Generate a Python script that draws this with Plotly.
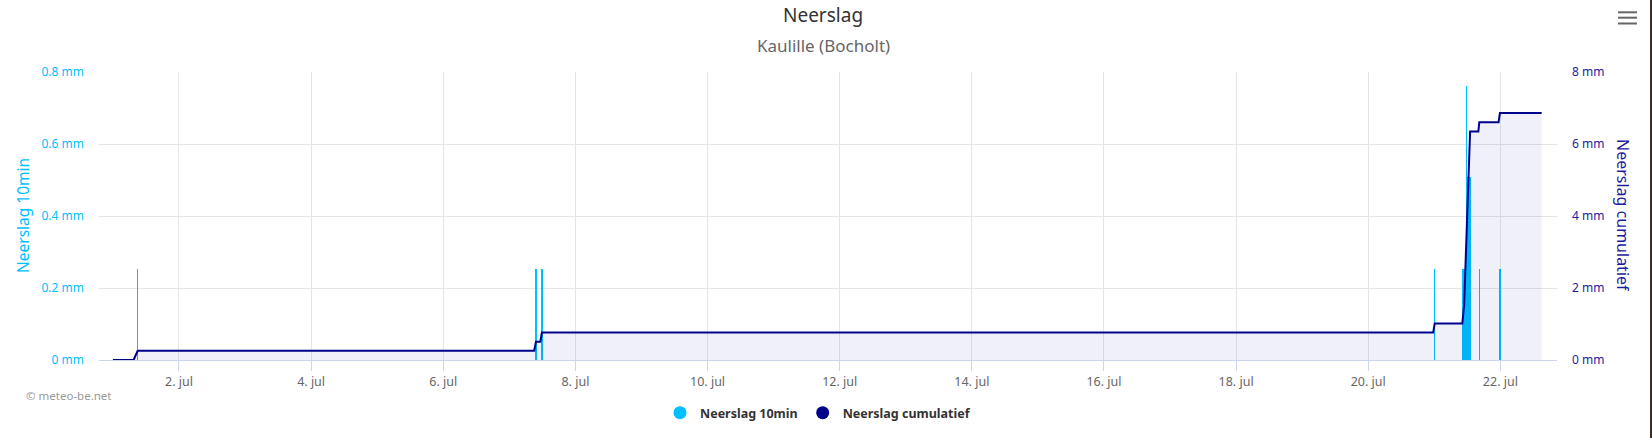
import plotly.graph_objects as go

# ---- data ----
rain_times = [
    "2025-07-01 09:00", "2025-07-07 09:40", "2025-07-07 11:50", "2025-07-21 00:10",
    "2025-07-21 10:10", "2025-07-21 10:20", "2025-07-21 10:30", "2025-07-21 10:40",
    "2025-07-21 10:50", "2025-07-21 11:00", "2025-07-21 11:10", "2025-07-21 11:20",
    "2025-07-21 11:30", "2025-07-21 11:40", "2025-07-21 11:50", "2025-07-21 12:00",
    "2025-07-21 12:10", "2025-07-21 12:20", "2025-07-21 12:30", "2025-07-21 12:40",
    "2025-07-21 12:50", "2025-07-21 13:00", "2025-07-21 16:20", "2025-07-21 23:50",
]
rain_10min = [
    0.254, 0.254, 0.254, 0.254,
    0.254, 0.254, 0.254, 0.254,
    0.254, 0.254, 0.254, 0.254,
    0.254, 0.762, 0.508, 0.508,
    0.508, 0.508, 0.508, 0.508,
    0.508, 0.508, 0.254, 0.254,
]

cum_times = [
    "2025-07-01 00:00", "2025-07-01 07:30", "2025-07-01 09:00",
    "2025-07-07 09:00", "2025-07-07 09:40", "2025-07-07 11:15", "2025-07-07 11:50",
    "2025-07-20 23:35", "2025-07-21 00:10", "2025-07-21 10:10", "2025-07-21 10:50",
    "2025-07-21 13:00", "2025-07-21 16:00", "2025-07-21 16:20", "2025-07-21 23:20",
    "2025-07-21 23:50", "2025-07-22 15:00",
]
rain_cum = [
    0, 0, 0.254,
    0.254, 0.508, 0.508, 0.762,
    0.762, 1.016, 1.016, 1.524,
    6.35, 6.35, 6.604, 6.604,
    6.858, 6.858,
]

x_ticks = ["2025-07-%02d" % d for d in range(2, 23, 2)]
x_ticktext = ["%d. jul" % d for d in range(2, 23, 2)]
y1_ticks = [0, 0.2, 0.4, 0.6, 0.8]
y1_text = ["0 mm", "0.2 mm", "0.4 mm", "0.6 mm", "0.8 mm"]
y2_ticks = [0, 2, 4, 6, 8]
y2_text = ["0 mm", "2 mm", "4 mm", "6 mm", "8 mm"]

LIGHT = "#00bfff"
DARK = "#00008b"
DARK_TXT = "#1c1c9c"
FONT = "Noto Sans"

fig = go.Figure()
fig.add_trace(go.Bar(
    x=rain_times, y=rain_10min, width=600000, marker=dict(color=LIGHT, line=dict(width=0)),
    name="Neerslag 10min", showlegend=False, yaxis="y",
))
fig.add_trace(go.Scatter(
    x=cum_times, y=rain_cum, mode="lines", line=dict(color=DARK, width=2),
    fill="tozeroy", fillcolor="rgba(0,0,139,0.06)",
    name="Neerslag cumulatief", showlegend=False, yaxis="y2",
))
# legend entries with round symbols
fig.add_trace(go.Scatter(x=[None], y=[None], mode="markers",
                         marker=dict(symbol="circle", size=13, color=LIGHT),
                         name="<b>Neerslag 10min</b>"))
fig.add_trace(go.Scatter(x=[None], y=[None], mode="markers",
                         marker=dict(symbol="circle", size=13, color=DARK),
                         name="<b>Neerslag cumulatief</b>", yaxis="y2"))

L, R, T, B = 99, 95, 72, 78
W, H = 1652, 438
pw, ph = W - L - R, H - T - B

def px(xp):
    return (xp - L) / pw

def py(yp):
    return (H - B - yp) / ph

fig.update_layout(
    width=W, height=H,
    margin=dict(l=L, r=R, t=T, b=B, pad=0, autoexpand=False),
    paper_bgcolor="white", plot_bgcolor="white",
    font=dict(family=FONT, color="#333333"),
    bargap=0,
    xaxis=dict(
        type="date",
        range=["2025-06-30 18:57", "2025-07-22 20:34"],
        tickvals=x_ticks, ticktext=x_ticktext,
        tickfont=dict(size=12.5, color="#666666"),
        showgrid=True, gridcolor="#e6e6e6", gridwidth=1,
        showline=True, linecolor="#ccd6eb", linewidth=1,
        ticks="outside", ticklen=10, tickcolor="#ccd6eb",
        zeroline=False,
    ),
    yaxis=dict(
        range=[0, 0.8], tickvals=y1_ticks, ticktext=y1_text,
        tickfont=dict(size=12, color=LIGHT),
        showgrid=True, gridcolor="#e6e6e6", zeroline=False, showline=False,
        ticklabelstandoff=14,
    ),
    yaxis2=dict(
        range=[0, 8], tickvals=y2_ticks, ticktext=y2_text,
        tickfont=dict(size=12, color=DARK_TXT),
        overlaying="y", side="right", showgrid=False, zeroline=False, showline=False,
        ticklabelstandoff=14,
    ),
    legend=dict(
        orientation="h", x=px(818), xanchor="center", y=py(413), yanchor="middle",
        font=dict(size=12.5, color="#333333"), bgcolor="rgba(0,0,0,0)",
    ),
    annotations=[
        dict(text="Neerslag", xref="paper", yref="paper", x=px(823), y=py(15),
             showarrow=False, font=dict(size=19, color="#333333"), xanchor="center", yanchor="middle"),
        dict(text="Kaulille (Bocholt)", xref="paper", yref="paper", x=px(823), y=py(45),
             showarrow=False, font=dict(size=17, color="#666666"), xanchor="center", yanchor="middle"),
        dict(text="Neerslag 10min", xref="paper", yref="paper", x=px(23), y=py(216),
             showarrow=False, textangle=-90, font=dict(size=15.5, color=LIGHT),
             xanchor="center", yanchor="middle"),
        dict(text="Neerslag cumulatief", xref="paper", yref="paper", x=px(1623), y=py(216),
             showarrow=False, textangle=90, font=dict(size=16, color=DARK_TXT),
             xanchor="center", yanchor="middle"),
        dict(text="© meteo-be.net", xref="paper", yref="paper", x=px(24), y=py(395),
             showarrow=False, font=dict(size=11.5, color="#999999"), xanchor="left", yanchor="middle"),
    ],
    shapes=[
        dict(type="line", xref="paper", yref="paper", x0=px(1618), x1=px(1637), y0=py(12.3), y1=py(12.3),
             line=dict(color="#666666", width=2)),
        dict(type="line", xref="paper", yref="paper", x0=px(1618), x1=px(1637), y0=py(17.7), y1=py(17.7),
             line=dict(color="#666666", width=2)),
        dict(type="line", xref="paper", yref="paper", x0=px(1618), x1=px(1637), y0=py(23.5), y1=py(23.5),
             line=dict(color="#666666", width=2)),
        dict(type="rect", xref="paper", yref="paper", x0=px(1650), x1=px(1653), y0=py(0), y1=py(438),
             line=dict(width=0), fillcolor="#3a2c22"),
    ],
)

fig.write_html(
    "out.html",
    config={"displayModeBar": False},
    post_script="document.body.style.margin='0';document.body.style.overflow='hidden';",
)
